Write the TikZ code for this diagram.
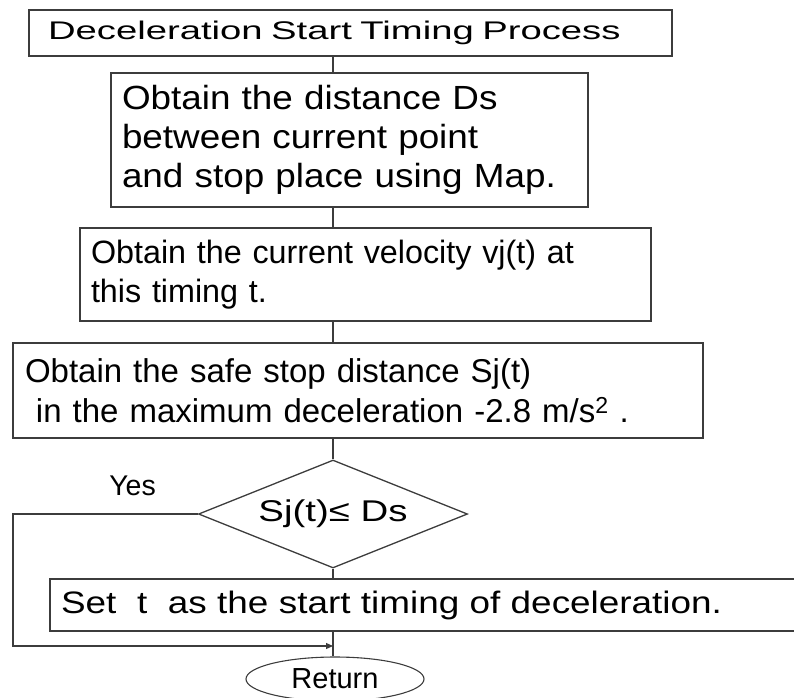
\documentclass[tikz,border=0pt]{standalone}
\usepackage{fontspec}
\setmainfont{Liberation Sans}
\newfontfamily\titlefnt[FakeStretch=1.5]{Liberation Sans}
\newfontfamily\wideAfnt[FakeStretch=1.1]{Liberation Sans}
\newfontfamily\wideBfnt[FakeStretch=1.19]{Liberation Sans}
\newfontfamily\wideCfnt[FakeStretch=1.28]{Liberation Sans}
\usetikzlibrary{arrows.meta,shapes.geometric,calc}
\definecolor{flowline}{HTML}{3C3C3C}

\begin{document}
\begin{tikzpicture}[
  x=1pt, y=-1pt,
  box/.style={draw=flowline, line width=1.3pt, inner xsep=#1, inner ysep=0pt, align=left},
  box/.default=11pt,
  test/.style={diamond, draw=flowline, line width=1.3pt, aspect=2.49, inner sep=0pt, minimum width=269pt, minimum height=108pt},
  term/.style={ellipse, draw=flowline, line width=1.1pt, inner sep=0pt, minimum width=178pt, minimum height=44pt},
  link/.style={draw=flowline, line width=1.1pt},
  arr/.style={link, -{Triangle[length=7pt, width=6pt]}}
]
\useasboundingbox (0,0) rectangle (794,697);
\coordinate (axis) at (333,0);

\node[box=19pt, minimum width=643pt, minimum height=46pt, text width=605pt, font=\titlefnt\fontsize{25.5}{30}\selectfont] (title) at (350.5,33) {Deceleration Start Timing Process};
\node[box, minimum width=477pt, minimum height=134pt, text width=455pt, font=\wideAfnt\fontsize{33.5}{39.2}\selectfont] (dist) at (349.5,140) {Obtain the distance Ds\\between current point\\and stop place using Map.};
\node[box, minimum width=571pt, minimum height=93pt, text width=549pt, font=\fontsize{32.3}{39.3}\selectfont] (velo) at (365.5,274.5) {Obtain the current velocity vj(t) at\\this timing t.};
\node[box=12pt, minimum width=690pt, minimum height=95pt, text width=666pt, font=\fontsize{33}{40}\selectfont] (safe) at (358,390.5) {Obtain the safe stop distance Sj(t)\\~in the maximum deceleration -2.8 m/s\textsuperscript{2} .};
\node[test, font=\wideCfnt\fontsize{30}{34}\selectfont] (check) at (333,514) {Sj(t)≤ Ds};
\node[box, minimum width=750pt, minimum height=52pt, text width=728pt, font=\wideBfnt\fontsize{31}{36}\selectfont] (start) at (425,605) {Set~ t~ as the start timing of deceleration.};
\node[term, font=\fontsize{29}{33}\selectfont] (ret) at (335,679) {Return};
\node[anchor=base, inner sep=0pt, font=\fontsize{28.5}{32}\selectfont] (yes) at (132.5,495) {Yes};

\coordinate (loopcorner) at (13,646);
\coordinate (merge) at (333,646);

\draw[link] (title.south -| axis) -- (dist.north -| axis);
\draw[link] (dist.south -| axis) -- (velo.north -| axis);
\draw[link] (velo.south -| axis) -- (safe.north -| axis);
\draw[link] (safe.south -| axis) -- (check.north);
\draw[link] (check.south) -- (start.north -| axis);
\draw[link] (start.south -| axis) -- (ret.north -| axis);
\draw[arr] (check.west) -| (loopcorner) -- (merge);

\end{tikzpicture}
\end{document}
